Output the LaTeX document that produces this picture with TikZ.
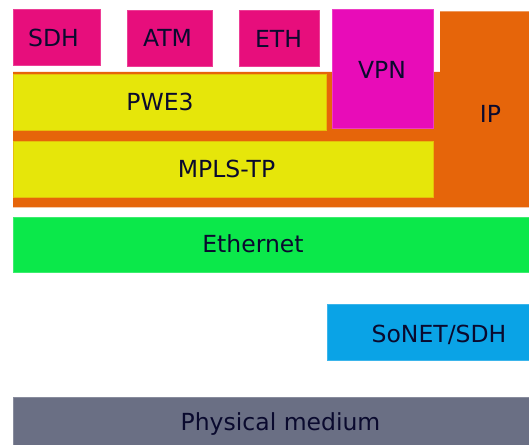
\documentclass[tikz,border=0pt]{standalone}
\usepackage{fontspec}
\setmainfont{DejaVu Sans}
\begin{document}
\begin{tikzpicture}[x=1bp,y=-1bp,
  lbl/.style={anchor=base,inner sep=0pt,text=txt,font=\fontsize{23.5bp}{26bp}\selectfont},
  blk/.style={draw=#1!80!white,line width=0.6bp,fill=#1}]
\definecolor{txt}{HTML}{0A0A2E}
\definecolor{mag}{HTML}{E70E7C}
\definecolor{vpn}{HTML}{E80CB8}
\definecolor{org}{HTML}{E6650A}
\definecolor{yel}{HTML}{E6E60A}
\definecolor{grn}{HTML}{0BE84A}
\definecolor{blu}{HTML}{0AA3E6}
\definecolor{gry}{HTML}{6A6F84}
\useasboundingbox (0,0) rectangle (529,445);
\fill[white] (0,0) rectangle (529,445);
% IP layer: orange band with its tall column on the right
\fill[org] (13,72) -- (440,72) -- (440,11.5) -- (529,11.5) -- (529,207.5) -- (13,207.5) -- cycle;
% client layers
\path[blk=mag] (13,9) rectangle (100,65);
\path[blk=mag] (127,10) rectangle (212,66.5);
\path[blk=mag] (239,10) rectangle (319,66);
\path[blk=vpn] (332,9) rectangle (433,128.5);
% MPLS-TP stack
\path[blk=yel,draw=yel!70!org] (13,74.5) rectangle (326,130);
\path[blk=yel,draw=yel!70!org] (13,141) rectangle (433,197);
% lower layers
\path[blk=grn] (13,217) rectangle (529,272.5);
\path[blk=blu] (327,304) rectangle (529,360);
\path[blk=gry] (13,397) rectangle (529,446);
% labels
\node[lbl] (sdh) at (53.5,47) {SDH};
\node[lbl] (atm) at (167.5,47) {ATM};
\node[lbl] (eth) at (278.5,48) {ETH};
\node[lbl] (vpnl) at (382,79) {VPN};
\node[lbl] (ip) at (490.5,123) {IP};
\node[lbl] (pwe) at (160,111) {PWE3};
\node[lbl] (mpls) at (226.5,178) {MPLS-TP};
\node[lbl] (ethernet) at (253,253) {Ethernet};
\node[lbl] (sonet) at (439,342) {SoNET/SDH};
\node[lbl] (phy) at (280.5,430) {Physical medium};
\end{tikzpicture}
\end{document}
